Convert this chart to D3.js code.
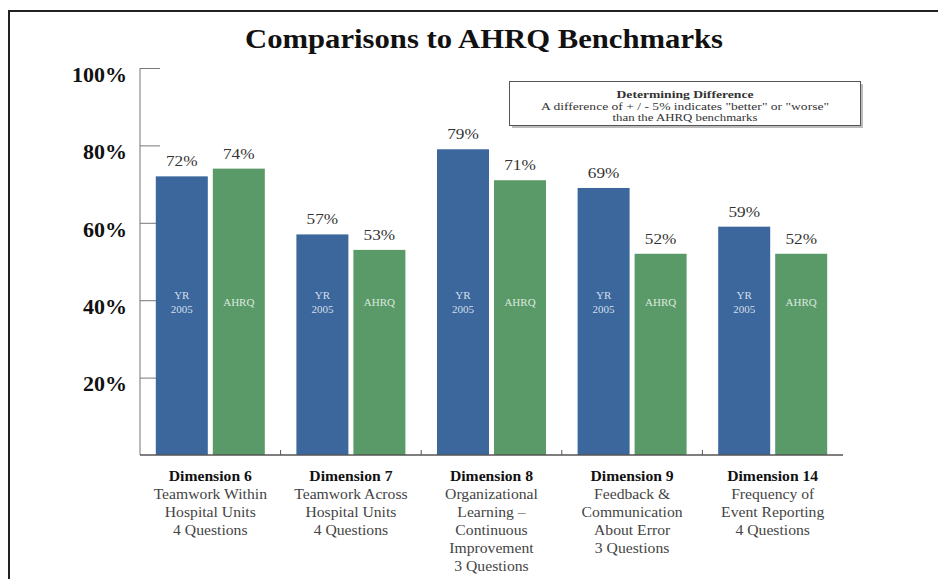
<!DOCTYPE html>
<meta charset="utf-8">
<script src="https://d3js.org/d3.v7.min.js"></script>
<style>
body { margin: 0; background: #fff; }
text { font-family: "Liberation Serif", "Times New Roman", serif; }
.axis path, .axis line { stroke: #777; }
</style>
<body>
<script>
// chart values
var dims = ["Dimension 6", "Dimension 7", "Dimension 8", "Dimension 9", "Dimension 14"];
var dimText = [
  ["Teamwork Within", "Hospital Units", "4 Questions"],
  ["Teamwork Across", "Hospital Units", "4 Questions"],
  ["Organizational", "Learning \u2013", "Continuous", "Improvement", "3 Questions"],
  ["Feedback &", "Communication", "About Error", "3 Questions"],
  ["Frequency of", "Event Reporting", "4 Questions"]
];
var yr2005 = [72, 57, 79, 69, 59];
var ahrq = [74, 53, 71, 52, 52];
var yTicks = [20, 40, 60, 80, 100];
var noteLines = ["Determining Difference",
  "A difference of + / - 5% indicates \"better\" or \"worse\"",
  "than the AHRQ benchmarks"];
var noteWidths = [137, 288, 145];

var W = 938, H = 579;
var svg = d3.select("body").append("svg").attr("width", W).attr("height", H);

// frame
svg.append("line").attr("x1", 8).attr("x2", W).attr("y1", 11).attr("y2", 11)
  .attr("stroke", "#222").attr("stroke-width", 2);
svg.append("line").attr("x1", 9).attr("x2", 9).attr("y1", 11).attr("y2", H)
  .attr("stroke", "#222").attr("stroke-width", 2);

// title (the original is drawn a bit wide)
svg.append("text").attr("x", 484).attr("y", 48).attr("text-anchor", "middle")
  .style("font-size", "27px").style("font-weight", "bold").attr("fill", "#111")
  .attr("textLength", 478).attr("lengthAdjust", "spacingAndGlyphs")
  .text("Comparisons to AHRQ Benchmarks");

var x = d3.scaleBand().domain(dims).range([140, 843]).paddingInner(0).paddingOuter(0);
var y = d3.scaleLinear().domain([0, 100]).range([455, 68]);
var bw = 52, gap = 5;
var off = (x.bandwidth() - 2 * bw - gap) / 2;

// y axis
var ya = svg.append("g").attr("class", "axis").attr("transform", "translate(140,0)")
  .call(d3.axisLeft(y).tickValues(yTicks).tickSizeInner(-20).tickSizeOuter(0)
    .tickPadding(13).tickFormat(function(d) { return d + "%"; }));
ya.selectAll("text").attr("dy", "0.6em").style("font-size", "22px")
  .style("font-weight", "bold").attr("fill", "#111")
  .style("font-family", "'Liberation Serif', serif");
ya.select(".domain").attr("d", "M0," + y(100) + "V" + y(0));

// bars
var groups = svg.selectAll(".grp").data(dims).enter().append("g")
  .attr("transform", function(d) { return "translate(" + x(d) + ",0)"; });

groups.append("rect")
  .attr("x", off).attr("width", bw)
  .attr("y", function(d, i) { return y(yr2005[i]); })
  .attr("height", function(d, i) { return y(0) - y(yr2005[i]); })
  .attr("fill", "#3b679c");
groups.append("rect")
  .attr("x", off + bw + gap).attr("width", bw)
  .attr("y", function(d, i) { return y(ahrq[i]); })
  .attr("height", function(d, i) { return y(0) - y(ahrq[i]); })
  .attr("fill", "#5a9a68");

// value labels
groups.append("text").attr("text-anchor", "middle")
  .attr("transform", function(d, i) {
    return "translate(" + (off + bw / 2) + "," + (y(yr2005[i]) - 10) + ") scale(1.15,1)"; })
  .style("font-size", "15px").attr("fill", "#333")
  .text(function(d, i) { return yr2005[i] + "%"; });
groups.append("text").attr("text-anchor", "middle")
  .attr("transform", function(d, i) {
    return "translate(" + (off + bw * 1.5 + gap) + "," + (y(ahrq[i]) - 10) + ") scale(1.15,1)"; })
  .style("font-size", "15px").attr("fill", "#333")
  .text(function(d, i) { return ahrq[i] + "%"; });

// in-bar labels
var inb = groups.append("text").attr("text-anchor", "middle")
  .style("font-size", "11px").attr("fill", "#d5dfea");
inb.append("tspan").attr("x", off + bw / 2).attr("y", 299).text("YR");
inb.append("tspan").attr("x", off + bw / 2).attr("y", 313).text("2005");
groups.append("text").attr("text-anchor", "middle")
  .attr("x", off + bw * 1.5 + gap).attr("y", 306)
  .style("font-size", "11px").attr("fill", "#dbe9de").text("AHRQ");

// bottom axis with group separators
svg.append("line").attr("x1", 140).attr("x2", 843).attr("y1", y(0)).attr("y2", y(0))
  .attr("stroke", "#555").attr("stroke-width", 1.5);
svg.selectAll(".sep").data(dims.slice(1)).enter().append("line")
  .attr("x1", function(d) { return x(d); }).attr("x2", function(d) { return x(d); })
  .attr("y1", y(0)).attr("y2", y(0) - 5).attr("stroke", "#555");

// category labels
var cl = groups.append("text").attr("text-anchor", "middle")
  .attr("transform", "translate(" + (x.bandwidth() / 2) + ",0) scale(1.12,1)")
  .style("font-size", "14px").attr("fill", "#444");
cl.append("tspan").attr("x", 0).attr("y", 481)
  .style("font-weight", "bold").attr("fill", "#111").text(function(d) { return d; });
cl.each(function(d, i) {
  var t = d3.select(this);
  dimText[i].forEach(function(s, j) {
    t.append("tspan").attr("x", 0).attr("y", 499 + j * 18).text(s);
  });
});

// note box
svg.append("rect").attr("x", 512).attr("y", 84).attr("width", 351).attr("height", 44)
  .attr("fill", "#bbb");
svg.append("rect").attr("x", 509.5).attr("y", 81.5).attr("width", 351).attr("height", 44)
  .attr("fill", "#fff").attr("stroke", "#555").attr("stroke-width", 1);
svg.selectAll(".note").data(noteLines).enter().append("text")
  .attr("x", 685).attr("y", function(d, i) { return 98 + i * 11.5; })
  .attr("text-anchor", "middle").style("font-size", "10.5px")
  .attr("textLength", function(d, i) { return noteWidths[i]; })
  .attr("lengthAdjust", "spacingAndGlyphs")
  .style("font-weight", function(d, i) { return i === 0 ? "bold" : "normal"; })
  .attr("fill", "#333").text(function(d) { return d; });
</script>
</body>
